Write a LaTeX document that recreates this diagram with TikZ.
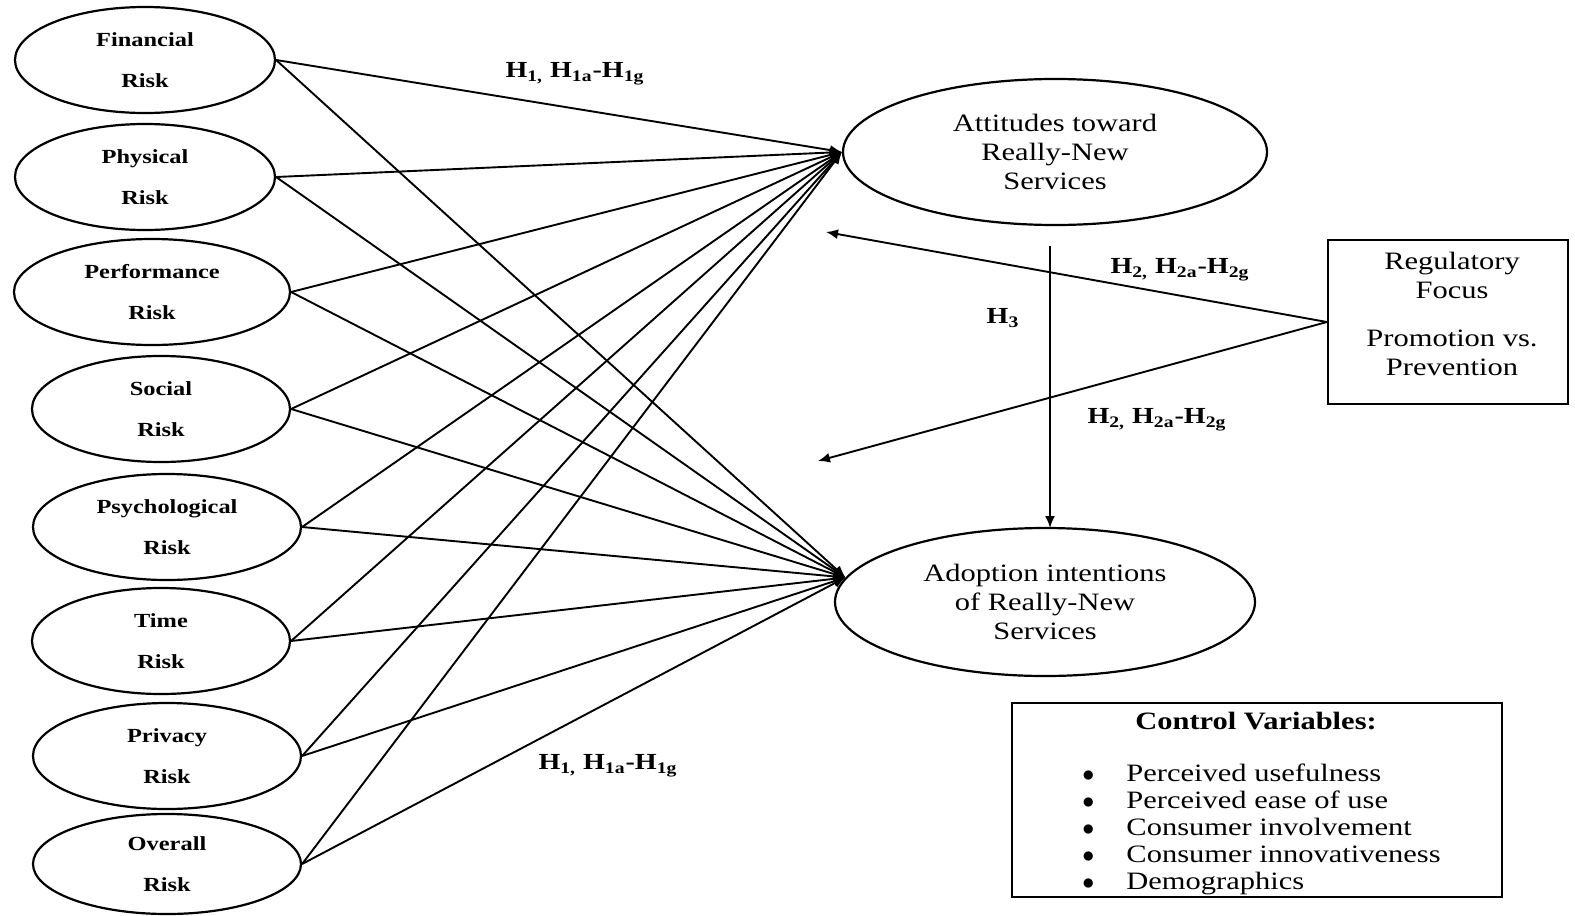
\documentclass[tikz,border=0pt]{standalone}
\usepackage{fontspec}
\setmainfont{Liberation Serif}[FakeStretch=1.22]
\usetikzlibrary{arrows.meta, shapes.geometric}

\tikzset{
  risk/.style={ellipse, draw, line width=1.1pt, minimum height=53pt, inner sep=0pt,
    align=center, font=\fontsize{10}{20.5}\selectfont\bfseries},
  outcome/.style={ellipse, draw, line width=1.1pt, minimum height=73pt, inner sep=0pt,
    align=center, font=\fontsize{12.5}{14.5}\selectfont},
  hyp/.style={font=\fontsize{11.5}{13}\selectfont\bfseries},
  link/.style={line width=0.95pt, -{Latex[length=6pt,width=5pt]}},
}

\begin{document}
\begin{tikzpicture}[x=0.5pt, y=-0.5pt]
    \useasboundingbox (0,0) rectangle (1575,916);

    % Risk dimensions
    \node[risk, minimum width=130pt] (fin)  at (145,60)  {Financial\\Risk};
    \node[risk, minimum width=130pt] (phy)  at (145,177) {Physical\\Risk};
    \node[risk, minimum width=138pt] (perf) at (152,292) {Performance\\Risk};
    \node[risk, minimum width=129pt] (soc)  at (161,409) {Social\\Risk};
    \node[risk, minimum width=134pt] (psy)  at (167,527) {Psychological\\Risk};
    \node[risk, minimum width=129pt] (tim)  at (161,641) {Time\\Risk};
    \node[risk, minimum width=134pt] (priv) at (167,756) {Privacy\\Risk};
    \node[risk, minimum width=134pt, minimum height=50pt] (over) at (167,864) {Overall\\Risk};

    % Outcomes
    \node[outcome, minimum width=212pt] (att)   at (1055,152) {Attitudes toward\\Really-New\\Services};
    \node[outcome, minimum width=210pt, minimum height=74pt] (adopt) at (1045,602) {Adoption intentions\\of Really-New\\Services};

    % Moderator
    \node[draw, line width=1.1pt, minimum width=120pt, minimum height=82pt] (reg) at (1448,322) {};
    \node[align=center, font=\fontsize{12.5}{14.5}\selectfont] (regtext) at (1452,314)
        {Regulatory\\Focus\\[9.5pt]Promotion vs.\\Prevention};

    % Control variables
    \node[draw, line width=1.1pt, minimum width=245pt, minimum height=97pt] (ctrl) at (1257,800) {};
    \node[font=\fontsize{12.5}{14.5}\selectfont\bfseries] (ctrlhead) at (1256,721) {Control Variables:};
    \node[anchor=north west, align=left, inner sep=0pt, font=\fontsize{12.5}{13.5}\selectfont]
        (ctrllist) at (1082,763)
        {$\bullet$\hspace{16pt}Perceived usefulness\\
         $\bullet$\hspace{16pt}Perceived ease of use\\
         $\bullet$\hspace{16pt}Consumer involvement\\
         $\bullet$\hspace{16pt}Consumer innovativeness\\
         $\bullet$\hspace{16pt}Demographics};

    % H1 paths
    \foreach \r in {fin,phy,perf,soc,psy,tim,priv,over} {
        \draw[link] (\r.east) -- (att.west);
        \draw[link] (\r.east) -- (adopt.173);
    }

    % H2 and H3 paths
    \coordinate (h2top) at (826,232);
    \coordinate (h2bot) at (818,461);
    \coordinate (h3a) at (1050,246);
    \coordinate (h3b) at (1050,528);
    \draw[link] (reg.west) -- (h2top);
    \draw[link] (reg.west) -- (h2bot);
    \draw[link] (h3a) -- (h3b);

    % Hypothesis labels
    \node[hyp] (h1up)  at (575,74)   {H\textsubscript{1,} H\textsubscript{1a}-H\textsubscript{1g}};
    \node[hyp] (h1low) at (608,766)  {H\textsubscript{1,} H\textsubscript{1a}-H\textsubscript{1g}};
    \node[hyp] (h2up)  at (1180,270) {H\textsubscript{2,} H\textsubscript{2a}-H\textsubscript{2g}};
    \node[hyp] (h2low) at (1157,420) {H\textsubscript{2,} H\textsubscript{2a}-H\textsubscript{2g}};
    \node[hyp] (h3)    at (1003,318) {H\textsubscript{3}};
\end{tikzpicture}
\end{document}
